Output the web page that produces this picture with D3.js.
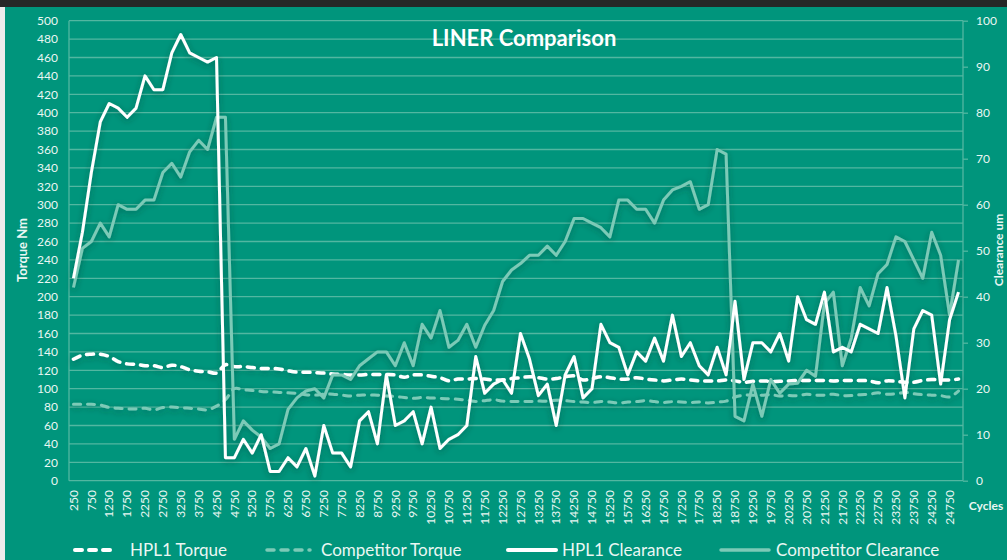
<!DOCTYPE html>
<html>
<head>
<meta charset="utf-8">
<script src="https://cdn.jsdelivr.net/npm/d3@7"></script>
<style>
  html, body { margin: 0; padding: 0; background: #00957c; }
  svg { display: block; }
  text { font-family: Lato, "Open Sans", "DejaVu Sans", sans-serif; }
</style>
</head>
<body>
<svg id="chart" width="1007" height="560"></svg>
<script>
// ---------- DATA ----------
const cycles = [250,500,750,1000,1250,1500,1750,2000,2250,2500,2750,3000,3250,3500,3750,4000,4250,4500,4750,5000,
  5250,5500,5750,6000,6250,6500,6750,7000,7250,7500,7750,8000,8250,8500,8750,9000,9250,9500,9750,10000,
  10250,10500,10750,11000,11250,11500,11750,12000,12250,12500,12750,13000,13250,13500,13750,14000,14250,14500,14750,15000,
  15250,15500,15750,16000,16250,16500,16750,17000,17250,17500,17750,18000,18250,18500,18750,19000,19250,19500,19750,20000,
  20250,20500,20750,21000,21250,21500,21750,22000,22250,22500,22750,23000,23250,23500,23750,24000,24250,24500,24750,25000];

const xTickLabels = cycles.filter((c, i) => i % 2 === 0);           // 250, 750, ... 24750
const leftTicks = [0,20,40,60,80,100,120,140,160,180,200,220,240,260,280,300,320,340,360,380,400,420,440,460,480,500];
const rightTicks = [0,10,20,30,40,50,60,70,80,90,100];

// Torque (Nm, left axis)
const hplTorque = [132,136.5,137.5,137.5,135,129.5,127,126.5,125,125,123,125.5,124,120.5,119,118.5,117,126,124,124,
  123,122,122,121.5,119.5,118,118,117.5,117,116,115.5,115,115,115.5,115.5,115.5,115,112.5,115,115,
  113.5,112,108.5,110.5,110.5,111,110.5,109.5,109.5,111,112,113,112,110.5,111,113,114,109.5,111,113,
  112,110.5,110.5,112,110.5,109.5,108.5,109.5,110.5,109.5,108.5,108.5,108.5,109.5,108.5,107,108,108.5,108,108,
  108.5,109,109,109,109,108.5,109,109,109,108.5,106.5,108.5,108,107,107,109,110,109.5,109.5,110.5];

const compTorque = [83,83,83,82.3,79.5,78.7,78,78,78.7,77,79.5,80,79.4,78.7,78,77,81,88,100,99,
  98,97,96.5,96,95.5,95,93.5,93,94,94,93,92,93,93,93,92,91.5,90.5,89.5,90.5,
  90,89.5,89,88.5,87.5,86,87,88,86.5,86,86,86,86.5,86.5,87.5,87,86,85.5,85,86,
  85.5,84.5,85.5,86,87,86,85,86,85.5,85,85.5,84.5,85.5,86.5,91,93,93,93,93.5,92,
  92.5,92.5,94,93,93,94,92.5,92.5,93.5,94,95.5,94,94.5,96,94.5,93.5,93,92.5,91,97.5];

// Clearance (um, right axis)
const hplClearance = [44,54,67,78,82,81,79,81,88,85,85,93,97,93,92,91,92,5,5,9,
  6,10,2,2,5,3,7,1,12,6,6,3,13,15,8,23,12,13,15,8,
  16,7,9,10,12,27,19,21,22,19,32,26.5,18.5,21,12,23,27,18,20,34,
  30,29,23,28,26,31,26,36,27,30,25,23,29,23,39,22,30,30,28,32,
  26,40,35,34,41,28,29,28,34,33,32,42,31.5,18,33,37,36,21,35,41];

const compClearance = [42,50.5,52,56,53,60,59,59,61,61,67,69,66,71.5,74,72,79,79,9,13,
  11,9.5,7,8,15.5,18,19.5,20,18,23,23,22,25,26.5,28,28,25,30,25,34,
  31,37,29,30.5,34,29,33.8,37,43.3,45.8,47.2,49,49,51,49,52,57,57,56,55,
  53,61,61,59,59,56,61,63.2,64,65,59,60,72,71,14,13,21,14,22,19,
  21,21.2,24,22.7,38.5,41,25,31,42,38,45,47,53,52,48,44,54,49,36,48];

const seriesNames = ["HPL1 Torque", "Competitor Torque", "HPL1 Clearance", "Competitor Clearance"];

// ---------- LAYOUT ----------
const W = 1007, H = 560;
const plotL = 69, plotR = 963, plotT = 20.7, plotB = 480.7;
const teal = "#00957c";
const gridCol = "#52b7a1";
const lightLine = "#7ccab7";
const textCol = "#eaf7f3";

const svg = d3.select("#chart");

// background
svg.append("rect").attr("width", W).attr("height", H).attr("fill", teal);
svg.append("rect").attr("x", 0).attr("y", 0).attr("width", W).attr("height", 7).attr("fill", "#262727");
svg.append("rect").attr("x", 0).attr("y", 7).attr("width", 5).attr("height", H - 7).attr("fill", "#ececec");

// shadow filter
const defs = svg.append("defs");
const f = defs.append("filter").attr("id", "shadow").attr("x", "-10%").attr("y", "-10%").attr("width", "120%").attr("height", "120%");
f.append("feDropShadow").attr("dx", 0).attr("dy", 2).attr("stdDeviation", 3)
  .attr("flood-color", "#00362b").attr("flood-opacity", 0.45);

// scales
const x = d3.scalePoint().domain(cycles).range([plotL, plotR]).padding(0.5);
const yL = d3.scaleLinear().domain([0, 500]).range([plotB, plotT]);
const yR = d3.scaleLinear().domain([0, 100]).range([plotB, plotT]);

// gridlines
svg.append("g").selectAll("line").data(leftTicks).join("line")
  .attr("x1", plotL).attr("x2", plotR)
  .attr("y1", d => yL(d)).attr("y2", d => yL(d))
  .attr("stroke", gridCol).attr("stroke-width", 1.3);

// axis lines
svg.append("line").attr("x1", plotL).attr("x2", plotL).attr("y1", plotT).attr("y2", plotB)
  .attr("stroke", gridCol).attr("stroke-width", 1.3);
svg.append("line").attr("x1", plotR).attr("x2", plotR).attr("y1", plotT).attr("y2", plotB)
  .attr("stroke", gridCol).attr("stroke-width", 1.3);

// left axis
const gL = svg.append("g").attr("transform", `translate(${plotL},0)`)
  .call(d3.axisLeft(yL).tickValues(leftTicks).tickSize(0).tickPadding(11));
gL.select(".domain").remove();
gL.selectAll("text").attr("fill", textCol).style("font-size", "12px");

// right axis
const gR = svg.append("g").attr("transform", `translate(${plotR},0)`)
  .call(d3.axisRight(yR).tickValues(rightTicks).tickSize(5).tickPadding(8));
gR.select(".domain").remove();
gR.selectAll("line").attr("stroke", gridCol).attr("stroke-width", 1.3);
gR.selectAll("text").attr("fill", textCol).style("font-size", "12px");

// x labels
svg.append("g").selectAll("text").data(xTickLabels).join("text")
  .attr("transform", d => `translate(${x(d)},490) rotate(-90)`)
  .attr("text-anchor", "end").attr("dy", "0.35em")
  .attr("fill", textCol).style("font-size", "12px")
  .text(d => d);

// axis titles
svg.append("text").attr("transform", "translate(22,250) rotate(-90)")
  .attr("text-anchor", "middle").attr("dy", "0.35em")
  .attr("fill", textCol).style("font-size", "13px").style("font-weight", "bold")
  .text("Torque  Nm");
svg.append("text").attr("transform", "translate(999,250) rotate(-90)")
  .attr("text-anchor", "middle").attr("dy", "0.35em")
  .attr("fill", textCol).style("font-size", "12px").style("font-weight", "bold")
  .text("Clearance  um");
svg.append("text").attr("x", 986).attr("y", 510).attr("text-anchor", "middle")
  .attr("fill", textCol).style("font-size", "12px").style("font-weight", "bold")
  .text("Cycles");

// title
svg.append("text").attr("x", 524).attr("y", 46).attr("text-anchor", "middle")
  .attr("fill", "#ffffff").style("font-size", "22px").style("font-weight", "bold")
  .text("LINER Comparison");

// lines
const smoothL = d3.line().x((d, i) => x(cycles[i])).y(d => yL(d)).curve(d3.curveCatmullRom.alpha(0.5));
const straightR = d3.line().x((d, i) => x(cycles[i])).y(d => yR(d));

const gLines = svg.append("g").attr("filter", "url(#shadow)");
gLines.append("path").datum(compTorque).attr("d", smoothL)
  .attr("fill", "none").attr("stroke", lightLine).attr("stroke-width", 3)
  .attr("stroke-dasharray", "7,7").attr("stroke-linecap", "round");
gLines.append("path").datum(hplTorque).attr("d", smoothL)
  .attr("fill", "none").attr("stroke", "#ffffff").attr("stroke-width", 3.5)
  .attr("stroke-dasharray", "7,7").attr("stroke-linecap", "round");
gLines.append("path").datum(compClearance).attr("d", straightR)
  .attr("fill", "none").attr("stroke", lightLine).attr("stroke-width", 3)
  .attr("stroke-linejoin", "round");
gLines.append("path").datum(hplClearance).attr("d", straightR)
  .attr("fill", "none").attr("stroke", "#ffffff").attr("stroke-width", 3)
  .attr("stroke-linejoin", "round");

// legend
const legendItems = [
  {name: seriesNames[0], x1: 75, x2: 117, tx: 130, color: "#ffffff", dash: "7,7", w: 4},
  {name: seriesNames[1], x1: 267, x2: 310, tx: 321, color: lightLine, dash: "7,7", w: 3.5},
  {name: seriesNames[2], x1: 508, x2: 556, tx: 562, color: "#ffffff", dash: null, w: 4},
  {name: seriesNames[3], x1: 721, x2: 769, tx: 776, color: lightLine, dash: null, w: 3.5}
];
const lg = svg.append("g");
legendItems.forEach(it => {
  lg.append("line").attr("x1", it.x1).attr("x2", it.x2).attr("y1", 550).attr("y2", 550)
    .attr("stroke", it.color).attr("stroke-width", it.w)
    .attr("stroke-dasharray", it.dash).attr("stroke-linecap", "round");
  lg.append("text").attr("x", it.tx).attr("y", 550).attr("dy", "0.35em")
    .attr("fill", textCol).style("font-size", "17px").text(it.name);
});
</script>
</body>
</html>
